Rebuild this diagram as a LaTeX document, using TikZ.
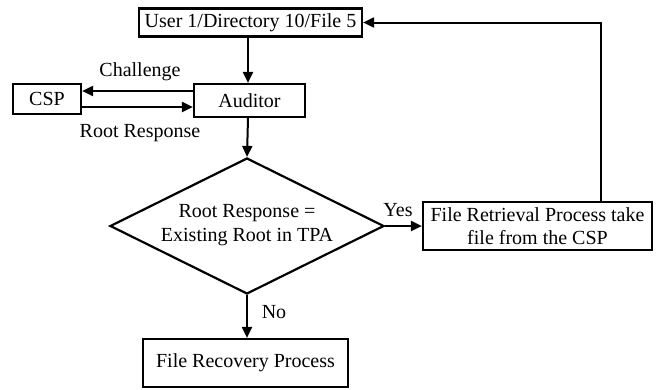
\documentclass[tikz,border=0pt]{standalone}
\usepackage{fontspec}
\setmainfont{Liberation Serif}
\usetikzlibrary{arrows.meta,shapes.geometric}
\begin{document}
\begin{tikzpicture}[x=1pt,y=-1pt,
  box/.style={draw,line width=2.2pt,inner sep=0pt,align=center,font=\fontsize{20}{23.5}\selectfont},
  arr/.style={line width=2pt,-{Triangle[length=11pt,width=10pt]}},
  lbl/.style={inner sep=0pt,font=\fontsize{20}{23.5}\selectfont}]
\useasboundingbox (0,0) rectangle (656,389);
\node[box,minimum width=223pt,minimum height=28pt] (top) at (250.5,22.5) {User 1/Directory 10/File 5};
\node[box,minimum width=111pt,minimum height=33pt] (aud) at (249.5,100.5) {Auditor};
\node[box,minimum width=68pt,minimum height=30pt] (csp) at (47,99) {CSP};
\node[draw,diamond,line width=2.2pt,inner sep=0pt,minimum width=274pt,minimum height=136pt] (dec) at (247,226) {};
\node[lbl,align=center] (dectext) at (247,225) {Root Response =\\Existing Root in TPA};
\node[box,minimum width=229pt,minimum height=48pt] (ret) at (537.5,226) {File Retrieval Process take\\file from the CSP};
\node[box,minimum width=205pt,minimum height=48pt] (rec) at (245.5,363) {File Recovery Process};
\coordinate (tx) at (248,0);
\coordinate (cy) at (0,91);
\coordinate (ry) at (0,107);
\coordinate (rx) at (601,0);
\draw[arr] (tx |- top.south) -- (tx |- aud.north);
\draw[arr] (aud.west |- cy) -- (csp.east |- cy);
\draw[arr] (csp.east |- ry) -- (aud.west |- ry);
\draw[arr] (tx |- aud.south) -- (dec.north);
\draw[arr] (dec.east) -- (ret.west);
\draw[arr] (rx |- ret.north) |- (top.east);
\draw[arr] (dec.south) -- (dec.south |- rec.north);
\node[lbl] (chal) at (140,72) {Challenge};
\node[lbl] (rr) at (140,133) {Root Response};
\node[lbl] (yes) at (398,210) {Yes};
\node[lbl] (no) at (274,312) {No};
\end{tikzpicture}
\end{document}
